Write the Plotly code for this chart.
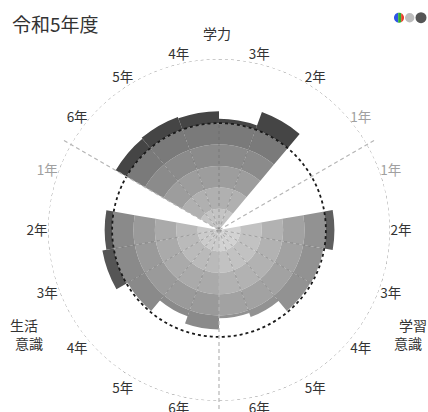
import numpy as np
import plotly.graph_objects as go

title_text = "令和5年度"
categories = ["学力", "学習意識", "生活意識"]
grades = ["1年", "2年", "3年", "4年", "5年", "6年"]

# values per grade (1年..6年); None = no data
gakuryoku = [None, 58.7, 52.0, 55.6, 56.3, 55.8]
gakushu_ishiki = [None, 54.0, 49.6, 49.4, 43.3, 41.3]
seikatsu_ishiki = [None, 53.5, 55.4, 49.4, 43.0, 46.5]
values = [gakuryoku, gakushu_ishiki, seikatsu_ishiki]

sector_start = [300, 60, 180]      # start angle of each category sector
grade_direction = [-1, 1, -1]      # order of grades inside the sector
average_value = 50
band_step = 10
radial_max = 80

band_colors = [
    ["#c4c4c4", "#b0b0b0", "#9d9d9d", "#8b8b8b", "#7a7a7a", "#454545"],
    ["#d2d2d2", "#c2c2c2", "#b2b2b2", "#a2a2a2", "#929292", "#5f5f5f"],
    ["#cbcbcb", "#bababa", "#aaaaaa", "#9a9a9a", "#8a8a8a", "#555555"],
]

FONT = "Noto Sans CJK JP, Noto Sans, sans-serif"
W, H = 428, 412
cx, cy, R = 219, 230, 171          # polar centre / radius in px
R2 = H - cy                        # radius for separator overlay

ng = len(grades)
slot = 120 / ng


def theta_of(ci, gi):
    idx = gi if grade_direction[ci] > 0 else ng - 1 - gi
    return (sector_start[ci] + slot / 2 + slot * idx) % 360


fig = go.Figure()

# stacked bands
nb = int(average_value / band_step)
for k in range(nb + 1):
    th, rr, cc = [], [], []
    for ci, vals in enumerate(values):
        for gi, v in enumerate(vals):
            if v is None:
                continue
            if k < nb:
                r = min(max(v - band_step * k, 0), band_step)
            else:
                r = max(v - average_value, 0)
            th.append(theta_of(ci, gi))
            rr.append(r)
            cc.append(band_colors[ci][k])
    fig.add_trace(go.Barpolar(r=rr, theta=th, width=slot, marker=dict(color=cc, line=dict(width=0)),
                              hoverinfo="skip", subplot="polar"))

# boundary lines between neighbouring bars
lr, lt = [], []
for ci, vals in enumerate(values):
    for gi in range(ng - 1):
        a, b = vals[gi], vals[gi + 1]
        if a is None or b is None:
            continue
        ang = (theta_of(ci, gi) + theta_of(ci, gi + 1)) / 2
        if abs(theta_of(ci, gi) - theta_of(ci, gi + 1)) > 180:
            ang = (ang + 180) % 360
        lr += [0, min(a, b), None]
        lt += [ang, ang, None]
fig.add_trace(go.Scatterpolar(r=lr, theta=lt, mode="lines",
                              line=dict(color="rgba(90,90,90,0.45)", width=0.9, dash="dot"),
                              hoverinfo="skip", subplot="polar"))

circ = np.arange(0, 361, 1)
# outer circle
fig.add_trace(go.Scatterpolar(r=[radial_max] * len(circ), theta=circ, mode="lines",
                              line=dict(color="#8a8a8a", width=1, dash="dot"),
                              hoverinfo="skip", subplot="polar"))
# average circle
fig.add_trace(go.Scatterpolar(r=[average_value] * len(circ), theta=circ, mode="lines",
                              line=dict(color="#1a1a1a", width=1.8, dash="dot"),
                              hoverinfo="skip", subplot="polar"))

# sector separators (overlay polar, larger radius)
r2max = radial_max * R2 / R
sr, st = [], []
for s in sector_start:
    sr += [0, r2max, None]
    st += [s, s, None]
fig.add_trace(go.Scatterpolar(r=sr, theta=st, mode="lines",
                              line=dict(color="#b5b5b5", width=1.2, dash="4px,3px"),
                              hoverinfo="skip", subplot="polar2"))

# tick labels
tickvals, ticktext = [], []
for ci, vals in enumerate(values):
    for gi, g in enumerate(grades):
        tickvals.append(theta_of(ci, gi))
        if vals[gi] is None:
            ticktext.append('<span style="color:#a0a0a0">%s</span>' % g)
        else:
            ticktext.append(g)

fig.update_layout(
    width=W, height=H,
    margin=dict(l=0, r=0, t=0, b=0),
    paper_bgcolor="white",
    showlegend=False,
    font=dict(family=FONT, color="#333"),
    polar=dict(
        domain=dict(x=[(cx - R) / W, (cx + R) / W], y=[1 - (cy + R) / H, 1 - (cy - R) / H]),
        bgcolor="white",
        barmode="stack",
        radialaxis=dict(range=[0, radial_max], showticklabels=False, showgrid=False,
                        showline=False, ticks=""),
        angularaxis=dict(direction="clockwise", rotation=90, tickmode="array",
                         tickvals=tickvals, ticktext=ticktext, showgrid=False,
                         showline=False, ticks="", tickfont=dict(size=13.5, color="#333")),
    ),
    polar2=dict(
        domain=dict(x=[(cx - R2) / W, (cx + R2) / W], y=[0, 1 - (cy - R2) / H]),
        bgcolor="rgba(0,0,0,0)",
        radialaxis=dict(range=[0, r2max], visible=False),
        angularaxis=dict(direction="clockwise", rotation=90, visible=False),
    ),
)

# title
fig.add_annotation(text=title_text, x=10 / W, y=1 - 23.5 / H, xref="paper", yref="paper",
                   xanchor="left", yanchor="middle", showarrow=False,
                   font=dict(size=19, color="#333", family=FONT))

# category labels
cat_lines = [
    ("学力", 217, 32.5),
    ("学習", 413, 325), ("意識", 408, 343),
    ("生活", 24, 325), ("意識", 29, 343),
]
for t, x, y in cat_lines:
    fig.add_annotation(text=t, x=x / W, y=1 - y / H, xref="paper", yref="paper",
                       xanchor="center", yanchor="middle", showarrow=False,
                       font=dict(size=14, color="#333", family=FONT))

# colour-mode icons (top right)
def pix_circle(xc, yc, r, color):
    fig.add_shape(type="circle", xref="paper", yref="paper", xsizemode="pixel", ysizemode="pixel",
                  xanchor=xc / W, yanchor=1 - yc / H, x0=-r, x1=r, y0=-r, y1=r,
                  fillcolor=color, line=dict(width=0))


def pix_segment(xc, yc, r, xa, xb, color):
    xa, xb = max(xa, -r), min(xb, r)
    a1, a2 = np.arccos(np.clip(xb / r, -1, 1)), np.arccos(np.clip(xa / r, -1, 1))
    ang = np.linspace(a1, a2, 20)
    top = [(r * np.cos(a), r * np.sin(a)) for a in ang]
    bot = [(r * np.cos(a), -r * np.sin(a)) for a in ang[::-1]]
    pts = top + bot
    path = "M " + " L ".join("%.2f,%.2f" % p for p in pts) + " Z"
    fig.add_shape(type="path", xref="paper", yref="paper", xsizemode="pixel", ysizemode="pixel",
                  xanchor=xc / W, yanchor=1 - yc / H, path=path, fillcolor=color, line=dict(width=0))


pix_segment(399, 17.7, 5, -5, -0.8, "#2f55e6")
pix_segment(399, 17.7, 5, -0.8, 2.2, "#2fb02f")
pix_segment(399, 17.7, 5, 2.2, 5, "#e8402a")
pix_circle(409.7, 17.7, 4.7, "#bdbdbd")
pix_circle(421, 17.7, 5.5, "#555555")

fig.write_html("out.html", config={"displayModeBar": False},
               post_script="document.body.style.margin='0px';document.body.style.overflow='hidden';")
